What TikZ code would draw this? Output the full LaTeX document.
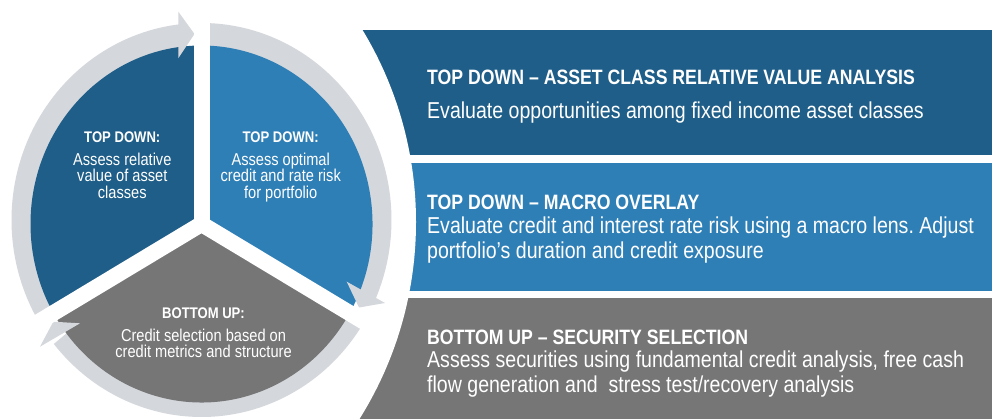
\documentclass[tikz,border=0pt]{standalone}
\usepackage{fontspec}
\setmainfont{Liberation Sans}[FakeStretch=0.85]
\usetikzlibrary{calc}
\frenchspacing
\definecolor{dblue}{HTML}{1F5E88}
\definecolor{mblue}{HTML}{2F7FB7}
\definecolor{dgray}{HTML}{757675}
\definecolor{ringgray}{HTML}{D4D7DC}
\begin{document}
\begin{tikzpicture}[x=1pt,y=1pt,
  pietitle/.style={text=white, font=\bfseries\fontsize{15.4}{18}\selectfont, inner sep=0pt, anchor=base},
  pietext/.style={text=white, font=\fontsize{17.2}{20}\selectfont, inner sep=0pt, anchor=base},
  bandtitle/.style={text=white, font=\bfseries\fontsize{20.8}{24}\selectfont, inner sep=0pt, anchor=base west},
  bandtext/.style={text=white, font=\fontsize{23}{27}\selectfont, inner sep=0pt, anchor=base west},
  gapline/.style={white, line width=16pt}]
\useasboundingbox (0,0) rectangle (992,419);
\clip (0,0) rectangle (992,419);
% bands
\fill[dblue] (300,264) rectangle (992,389);
\fill[mblue] (300,128) rectangle (992,256);
\fill[dgray] (300,-1) rectangle (992,121);
\fill[white] (45,197) circle[radius=371];
% centres
\coordinate (pc) at (201.5,195);
\coordinate (rc) at (201.5,199);
% ring segments
\fill[ringgray] (rc) -- ($(rc)+(210:190 and 197)$) arc[start angle=210, end angle=96, x radius=190, y radius=197] -- cycle;
\fill[ringgray] (rc) -- ($(rc)+(90:190 and 197)$) arc[start angle=90, end angle=-23.5, x radius=190, y radius=197] -- cycle;
\fill[ringgray] (rc) -- ($(rc)+(330:190 and 197)$) arc[start angle=330, end angle=219, x radius=190, y radius=197] -- cycle;
% pie sectors
\fill[dblue] (pc) -- ($(pc)+(90:171 and 178.5)$) arc[start angle=90, end angle=210, x radius=171, y radius=178.5] -- cycle;
\fill[mblue] (pc) -- ($(pc)+(-30:171 and 178.5)$) arc[start angle=-30, end angle=90, x radius=171, y radius=178.5] -- cycle;
\fill[dgray] (pc) -- ($(pc)+(210:171 and 178.5)$) arc[start angle=210, end angle=330, x radius=171, y radius=178.5] -- cycle;
% arrowheads
\fill[ringgray] (178.3,407.3) -- (194.5,385) -- (178.3,360.7) -- cycle;
\fill[ringgray] (346.7,137.3) -- (359,111.5) -- (385,116) -- cycle;
\fill[ringgray] (80,95.7) -- (53.3,97.3) -- (40,72.3) -- cycle;
% gaps
\draw[gapline] (pc) -- ($(pc)+(90:215 and 224)$);
\draw[gapline] (pc) -- ($(pc)+(210:215 and 224)$);
\draw[gapline] (pc) -- ($(pc)+(330:215 and 224)$);
% pie texts
\node[pietitle] (lt) at (122.3,276.3) {TOP DOWN:};
\node[pietext] (l1) at (122.3,253.3) {Assess relative};
\node[pietext] (l2) at (122.3,237.3) {value of asset};
\node[pietext] (l3) at (122.3,220.7) {classes};
\node[pietitle] (rt) at (280.7,276.3) {TOP DOWN:};
\node[pietext] (r1) at (280.7,253.3) {Assess optimal};
\node[pietext] (r2) at (280.7,237.3) {credit and rate risk};
\node[pietext] (r3) at (280.7,220.7) {for portfolio};
\node[pietitle] (bt) at (203.5,100.7) {BOTTOM UP:};
\node[pietext] (b1) at (203.5,77.3) {Credit selection based on};
\node[pietext] (b2) at (203.5,61.7) {credit metrics and structure};
% band texts
\node[bandtitle] (t1) at (427,334.5) {TOP DOWN -- ASSET CLASS RELATIVE VALUE ANALYSIS};
\node[bandtext] (t1a) at (427,300.5) {Evaluate opportunities among fixed income asset classes};
\node[bandtitle] (t2) at (427,209.5) {TOP DOWN -- MACRO OVERLAY};
\node[bandtext] (t2a) at (427,185) {Evaluate credit and interest rate risk using a macro lens. Adjust};
\node[bandtext] (t2b) at (427,160) {portfolio’s duration and credit exposure};
\node[bandtitle] (t3) at (427,74.5) {BOTTOM UP -- SECURITY SELECTION};
\node[bandtext] (t3a) at (427,51) {Assess securities using fundamental credit analysis, free cash};
\node[bandtext] (t3b) at (427,26) {flow generation and\ \ stress test/recovery analysis};
\end{tikzpicture}
\end{document}
